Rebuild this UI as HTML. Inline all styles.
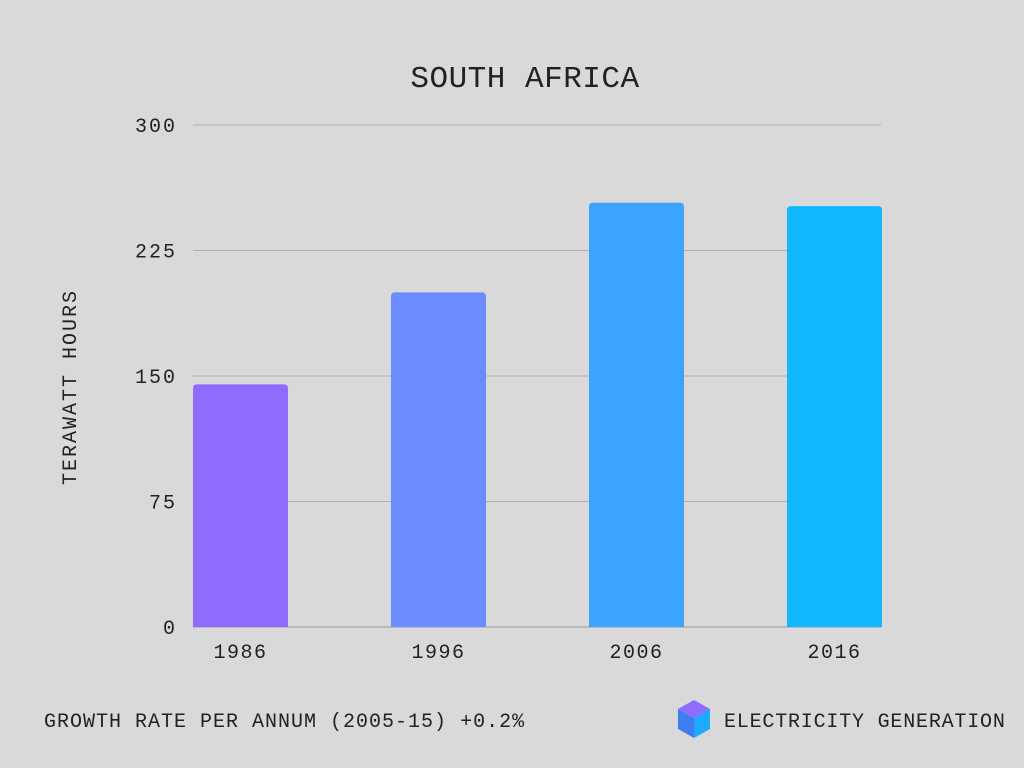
<!DOCTYPE html>
<html><head><meta charset="utf-8"><style>
html,body{margin:0;padding:0;background:#d9d9d9;}
svg{display:block;font-family:"Liberation Mono",monospace;}
</style></head><body>
<svg id="chart" width="1024" height="768" viewBox="0 0 1024 768">
<rect width="1024" height="768" fill="#d9d9d9"/>
<text x="525" y="87" text-anchor="middle" font-size="31" letter-spacing="0.5" fill="#222">SOUTH AFRICA</text>
<g id="grid"></g>
<g id="bars"></g>
<g id="xlabels"></g>
<text transform="translate(76,387) rotate(-90)" text-anchor="middle" font-size="20" letter-spacing="2" fill="#222">TERAWATT  HOURS</text>
<text x="44" y="727" font-size="20" letter-spacing="1" fill="#222">GROWTH RATE PER ANNUM (2005-15) +0.2%</text>
<g>
<polygon points="694,700 710,709 694,718 678,709" fill="#8f6bff"/>
<polygon points="678,709 694,718 694,738 678,729" fill="#3d7ff0"/>
<polygon points="694,718 710,709 710,729 694,738" fill="#1ea8ff"/>
</g>
<text x="724" y="727" font-size="20" letter-spacing="0.8" fill="#222">ELECTRICITY GENERATION</text>
</svg>
<script>
const categories = ["1986","1996","2006","2016"];
const values = [145, 200, 253.5, 251.5];
const ticks = [0, 75, 150, 225, 300];
const colors = ["#8f6bff","#6b8cff","#3aa4ff","#10b8ff"];
const NS="http://www.w3.org/2000/svg";
const y0=627, y1=125, vmax=300, x0=193, x1=881;
const yS=v=>y0-(v/vmax)*(y0-y1);
const step=198, bw=95;
const xS=i=>x0+i*step;
const grid=document.getElementById('grid');
ticks.forEach(t=>{
  const l=document.createElementNS(NS,'line');
  l.setAttribute('x1',x0);l.setAttribute('x2',x1);
  l.setAttribute('y1',yS(t));l.setAttribute('y2',yS(t));
  l.setAttribute('stroke',t===0?'#9a9a9a':'#b0b0b0');l.setAttribute('stroke-width','1');
  
  
  grid.appendChild(l);
  const tx=document.createElementNS(NS,'text');
  tx.setAttribute('x',177);tx.setAttribute('y',yS(t)+7);
  tx.setAttribute('text-anchor','end');tx.setAttribute('font-size','20');
  tx.setAttribute('letter-spacing','2');tx.setAttribute('fill','#222');
  tx.textContent=t;
  
  
  grid.appendChild(tx);
});
const bars=document.getElementById('bars'), xl=document.getElementById('xlabels');
categories.forEach((c,i)=>{
  const x=xS(i), y=yS(values[i]), h=y0-y, r=4;
  const p=document.createElementNS(NS,'path');
  p.setAttribute('d',`M${x},${y0} V${y+r} Q${x},${y} ${x+r},${y} H${x+bw-r} Q${x+bw},${y} ${x+bw},${y+r} V${y0} Z`);
  p.setAttribute('fill',colors[i]);
  
  
  bars.appendChild(p);
  const t=document.createElementNS(NS,'text');
  t.setAttribute('x',x+bw/2);t.setAttribute('y',658);
  t.setAttribute('text-anchor','middle');t.setAttribute('font-size','20');
  t.setAttribute('letter-spacing','1.5');t.setAttribute('fill','#222');
  t.textContent=c;
  
  
  xl.appendChild(t);
});
</script>
</body></html>
